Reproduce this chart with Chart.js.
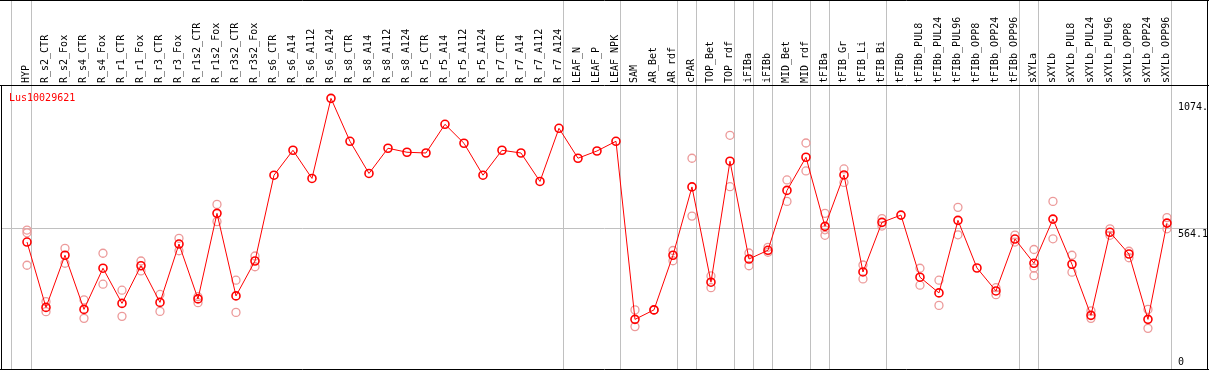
<!DOCTYPE html>
<html>
<head>
<meta charset="utf-8">
<style>
  html, body { margin: 0; padding: 0; background: #fff; }
  #wrap { width: 1209px; height: 370px; }
</style>
<script src="https://cdn.jsdelivr.net/npm/chart.js@4/dist/chart.umd.min.js"></script>
</head>
<body>
<div id="wrap"><canvas id="chart" width="1209" height="370"></canvas></div>
<script>
(function () {
  'use strict';

  var geneName = 'Lus10029621';

  var samples = ['HYP', 'R_s2_CTR', 'R_s2_Fox', 'R_s4_CTR', 'R_s4_Fox', 'R_r1_CTR', 'R_r1_Fox',
    'R_r3_CTR', 'R_r3_Fox', 'R_r1s2_CTR', 'R_r1s2_Fox', 'R_r3s2_CTR', 'R_r3s2_Fox',
    'R_s6_CTR', 'R_s6_A14', 'R_s6_A112', 'R_s6_A124', 'R_s8_CTR', 'R_s8_A14', 'R_s8_A112',
    'R_s8_A124', 'R_r5_CTR', 'R_r5_A14', 'R_r5_A112', 'R_r5_A124', 'R_r7_CTR', 'R_r7_A14',
    'R_r7_A112', 'R_r7_A124', 'LEAF_N', 'LEAF_P', 'LEAF_NPK', 'SAM', 'AR_Bet', 'AR_rdf',
    'cPAR', 'TOP_Bet', 'TOP_rdf', 'iFIBa', 'iFIBb', 'MID_Bet', 'MID_rdf', 'tFIBa', 'tFIB_Gr',
    'tFIB_Li', 'tFIB_Bi', 'tFIBb', 'tFIBb_PUL8', 'tFIBb_PUL24', 'tFIBb_PUL96', 'tFIBb_OPP8',
    'tFIBb_OPP24', 'tFIBb_OPP96', 'sXYLa', 'sXYLb', 'sXYLb_PUL8', 'sXYLb_PUL24',
    'sXYLb_PUL96', 'sXYLb_OPP8', 'sXYLb_OPP24', 'sXYLb_OPP96'];

  // mean expression per sample
  var means = [509, 247, 456, 239, 404, 263, 414, 267, 501, 281, 624, 293, 433,
    777, 877, 764, 1085, 913, 784, 885, 869, 866, 981, 905, 777, 877, 866, 752, 965,
    845, 874, 913, 199, 237, 456, 730, 348, 833, 441, 476, 716, 849, 572, 778, 389,
    588, 617, 368, 305, 596, 405, 313, 521, 424, 601, 420, 215, 548, 461, 199, 585];

  // individual replicates
  var replicates = [
    [557, 546, 416], [270, 230], [484, 424], [277, 203], [464, 340], [316, 211],
    [433, 393], [299, 231], [524, 474], [290, 266], [660, 591], [356, 227], [453, 410],
    [], [], [], [], [], [], [], [], [], [], [], [], [], [], [], [],
    [], [], [],
    [237, 170], [237, 237], [475, 434], [845, 613], [373, 326], [937, 731],
    [465, 414], [488, 468], [758, 672], [906, 794], [624, 558, 536], [802, 748],
    [417, 361], [603, 573], [], [404, 336], [356, 255], [648, 538], [], [326, 298],
    [537, 509], [479, 405, 374], [672, 522], [456, 388], [233, 203], [562, 536],
    [472, 446], [239, 163], [607, 562]
  ];

  // group separators (in category units)
  var separators = [-0.85, 0.2, 28.2, 31.2, 34.2, 35.2, 37.2, 38.2, 39.2, 41.2, 42.2,
    45.2, 52.2, 53.2, 60.2];

  var yMarks = [1074, 564.1, 0];
  var yMarkLabels = ['1074.', '564.1', '0'];

  var monoFont = '"DejaVu Sans Mono", "Liberation Mono", monospace';

  var meanPoints = means.map(function (v, i) { return { x: i, y: v }; });
  var repPoints = [];
  replicates.forEach(function (list, i) {
    list.forEach(function (v) { repPoints.push({ x: i, y: v }); });
  });

  var framePlugin = {
    id: 'frame',
    beforeDatasetsDraw: function (chart) {
      var ctx = chart.ctx, area = chart.chartArea;
      var xs = chart.scales.x, ys = chart.scales.y;
      ctx.save();
      ctx.strokeStyle = '#c0c0c0';
      ctx.lineWidth = 1;
      separators.forEach(function (s) {
        var px = Math.round(xs.getPixelForValue(s)) + 0.5;
        ctx.beginPath();
        ctx.moveTo(px, 0);
        ctx.lineTo(px, area.bottom);
        ctx.stroke();
      });
      var gy = Math.round(ys.getPixelForValue(564.1)) + 0.5;
      ctx.beginPath();
      ctx.moveTo(area.left, gy);
      ctx.lineTo(area.right, gy);
      ctx.stroke();
      ctx.restore();
    },
    afterDraw: function (chart) {
      var ctx = chart.ctx, area = chart.chartArea;
      var ys = chart.scales.y;
      ctx.save();
      ctx.strokeStyle = '#000';
      ctx.lineWidth = 1;
      ctx.beginPath();
      ctx.moveTo(0, 0.5); ctx.lineTo(chart.width, 0.5);
      ctx.moveTo(0, area.top + 0.5); ctx.lineTo(chart.width, area.top + 0.5);
      ctx.moveTo(0, area.bottom + 0.5); ctx.lineTo(chart.width, area.bottom + 0.5);
      ctx.moveTo(1.5, area.top); ctx.lineTo(1.5, area.bottom);
      ctx.moveTo(chart.width - 1.5, 0); ctx.lineTo(chart.width - 1.5, area.bottom);
      ctx.stroke();

      ctx.font = '10px ' + monoFont;
      ctx.fillStyle = '#f00';
      ctx.textAlign = 'left';
      ctx.textBaseline = 'alphabetic';
      ctx.fillText(geneName, 9, 101);

      ctx.fillStyle = '#000';
      yMarks.forEach(function (v, i) {
        var py = ys.getPixelForValue(v);
        if (v === 0) {
          ctx.textBaseline = 'bottom';
          ctx.fillText(yMarkLabels[i], 1178, py - 2);
        } else {
          ctx.textBaseline = 'top';
          ctx.fillText(yMarkLabels[i], 1178, py + 1);
        }
      });
      ctx.restore();
    }
  };

  new Chart(document.getElementById('chart'), {
    type: 'line',
    data: {
      datasets: [{
        label: 'mean',
        data: meanPoints,
        borderColor: '#ff0000',
        borderWidth: 1,
        pointStyle: 'circle',
        pointRadius: 4,
        pointBorderWidth: 1.6,
        pointBorderColor: '#ff0000',
        pointBackgroundColor: 'rgba(0,0,0,0)',
        tension: 0,
        order: 1
      }, {
        label: 'replicates',
        data: repPoints,
        showLine: false,
        pointStyle: 'circle',
        pointRadius: 4,
        pointBorderWidth: 1.3,
        pointBorderColor: '#ec9a9a',
        pointBackgroundColor: 'rgba(0,0,0,0)',
        order: 2
      }]
    },
    options: {
      responsive: false,
      animation: false,
      layout: { autoPadding: false, padding: { left: 1, right: 1, top: 0, bottom: 1 } },
      plugins: {
        legend: { display: false },
        tooltip: { enabled: false }
      },
      scales: {
        x: {
          type: 'linear',
          position: 'top',
          min: -1.368,
          max: 62.16,
          afterBuildTicks: function (scale) {
            scale.ticks = samples.map(function (_, i) { return { value: i }; });
          },
          afterFit: function (scale) {
            scale.height = 85;
            scale.paddingLeft = 0;
            scale.paddingRight = 0;
          },
          grid: { display: false, drawTicks: false },
          border: { display: false },
          ticks: {
            autoSkip: false,
            maxRotation: 90,
            minRotation: 90,
            padding: 2,
            labelOffset: 11,
            color: '#000',
            font: { family: monoFont, size: 10 },
            callback: function (value) { return samples[value]; }
          }
        },
        y: {
          type: 'linear',
          min: 0,
          max: 1138.6,
          display: false
        }
      }
    },
    plugins: [framePlugin]
  });
})();
</script>
</body>
</html>
